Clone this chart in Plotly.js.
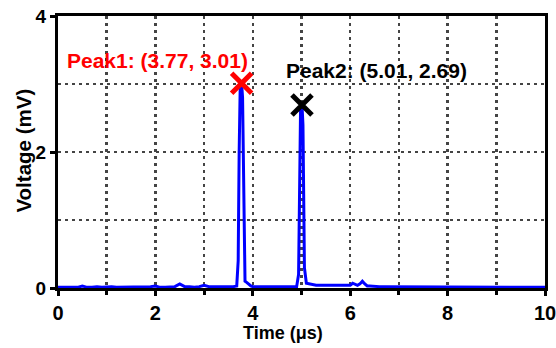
<!DOCTYPE html>
<html><head><meta charset="utf-8">
<script src="https://cdn.plot.ly/plotly-3.0.1.min.js"></script>
<style>body{margin:0;background:#fff}#c{width:556px;height:348px}</style>
</head><body><div id="c"></div>
<script>
const timeUs = [0,0.1,0.2,0.3,0.4,0.5,0.55,0.6,0.7,0.8,0.9,1.0,1.1,1.2,1.3,1.4,1.5,1.6,1.7,1.8,1.9,2.0,2.1,2.2,2.3,2.4,2.5,2.55,2.6,2.7,2.8,2.9,3.0,3.1,3.2,3.3,3.4,3.5,3.6,3.67,3.70,3.72,3.74,3.76,3.77,3.79,3.81,3.82,3.84,3.88,3.92,3.96,4.0,4.1,4.2,4.3,4.4,4.5,4.6,4.7,4.8,4.9,4.94,4.96,4.98,5.0,5.01,5.03,5.04,5.06,5.1,5.15,5.2,5.3,5.4,5.5,5.6,5.7,5.8,5.9,6.0,6.05,6.1,6.15,6.2,6.25,6.3,6.35,6.4,6.5,6.6,6.7,6.8,6.9,7.0,7.2,7.4,7.6,7.8,8.0,8.2,8.4,8.6,8.8,9.0,9.2,9.4,9.6,9.8,10.0];
const voltageMv = [0.01,0.01,0.02,0.01,0.01,0.03,0.02,0.01,0.01,0.02,0.01,0.02,0.02,0.01,0.01,0.02,0.01,0.01,0.02,0.01,0.02,0.03,0.01,0.01,0.02,0.02,0.06,0.04,0.02,0.02,0.01,0.02,0.04,0.02,0.02,0.01,0.02,0.02,0.02,0.03,0.4,2.0,2.9,3.0,3.01,2.8,1.6,0.4,0.1,0.08,0.05,0.03,0.02,0.02,0.01,0.02,0.02,0.01,0.02,0.02,0.01,0.02,0.2,1.8,2.6,2.69,2.69,2.4,1.2,0.3,0.07,0.06,0.05,0.04,0.04,0.04,0.03,0.04,0.03,0.03,0.04,0.07,0.05,0.04,0.06,0.1,0.06,0.03,0.03,0.02,0.02,0.02,0.02,0.01,0.02,0.01,0.02,0.01,0.01,0.02,0.01,0.01,0.02,0.01,0.01,0.02,0.01,0.01,0.02,0.01];
const peakX = [3.77, 5.01];
const peakY = [3.01, 2.69];
const peakLabels = ["Peak1: (3.77, 3.01)", "Peak2: (5.01, 2.69)"];
const peakColors = ["#ff0000", "#000000"];
const xTitle = "Time (μs)";
const yTitle = "Voltage (mV)";

const fontFam = "Liberation Sans, Arial, sans-serif";
const traces = [
  {x: timeUs, y: voltageMv, mode: "lines", line: {color: "#0000ff", width: 3}, hoverinfo: "none"},
  {x: peakX, y: peakY, mode: "markers", marker: {symbol: "x-thin", size: 20, color: peakColors, line: {color: peakColors, width: 5}}, hoverinfo: "none"}
];
const dash = "3px,4px";
const axisCommon = {
  showline: true, linecolor: "#000", linewidth: 3, mirror: true,
  ticks: "outside", ticklen: 5, tickwidth: 3, tickcolor: "#000",
  showgrid: true, gridcolor: "#444", gridwidth: 2.5, griddash: dash,
  zeroline: false, ticklabeloverflow: "allow"
};
const layout = {
  width: 556, height: 348,
  margin: {l: 58, r: 11, t: 16, b: 60},
  paper_bgcolor: "#fff", plot_bgcolor: "#fff",
  showlegend: false,
  xaxis: Object.assign({}, axisCommon, {
    range: [0, 10], dtick: 2, tick0: 0,
    tickfont: {family: fontFam, size: 20, color: "#000", weight: 700},
    minor: {dtick: 1, showgrid: true, gridcolor: "#444", gridwidth: 2.5, griddash: dash, ticks: "outside", ticklen: 4, tickwidth: 3, tickcolor: "#000"}
  }),
  yaxis: Object.assign({}, axisCommon, {
    range: [0, 4], dtick: 2, tick0: 0,
    tickfont: {family: fontFam, size: 19, color: "#000", weight: 700},
    minor: {dtick: 1, showgrid: true, gridcolor: "#444", gridwidth: 2.5, griddash: dash}
  }),
  annotations: peakX.map((px, i) => ({
    x: i === 0 ? 2.05 : 6.55, y: i === 0 ? 3.35 : 3.2,
    xref: "x", yref: "y", text: "<b>" + peakLabels[i] + "</b>", showarrow: false,
    font: {family: fontFam, size: 21, color: peakColors[i], weight: 700}
  })).concat([
    {xref: "paper", yref: "paper", x: 0.462, y: -0.165, xanchor: "center", yanchor: "middle",
     text: "<b>" + xTitle + "</b>", showarrow: false,
     font: {family: fontFam, size: 18, color: "#000", weight: 700}},
    {xref: "paper", yref: "paper", x: -0.07, y: 0.505, xanchor: "center", yanchor: "middle", textangle: -90,
     text: "<b>" + yTitle + "</b>", showarrow: false,
     font: {family: fontFam, size: 20.5, color: "#000", weight: 700}}
  ])
};
Plotly.newPlot("c", traces, layout, {displayModeBar: false, staticPlot: true});
</script></body></html>
